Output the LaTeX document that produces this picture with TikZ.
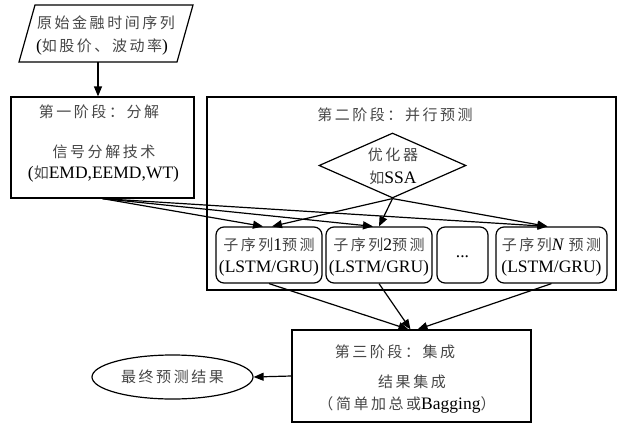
\documentclass[tikz,border=0pt]{standalone}
\usepackage{fontspec}
\setmainfont{Liberation Serif}
\newfontfamily\cjkfont[LetterSpace=17]{Noto Sans CJK SC}
\newcommand\zh[1]{{\cjkfont\fontsize{15}{20}\selectfont\color{black!72}#1}}
\usetikzlibrary{shapes.geometric,arrows.meta}
\begin{document}
\begin{tikzpicture}[x=1pt,y=-1pt,
  every node/.style={font=\fontsize{17.5}{20}\selectfont, inner sep=0pt},
  box/.style={draw, line width=1.2pt, rectangle},
  rbox/.style={draw, line width=1.2pt, rectangle, rounded corners=8pt},
  txt/.style={align=center},
  arr/.style={line width=1.2pt, -{Triangle[length=10pt,width=8pt]}}]
\useasboundingbox (0,0) rectangle (623,423);
\fill[white] (0,0) rectangle (623,423);
% source parallelogram
\draw[line width=1.2pt] (35,5) -- (193,5) -- (177,62) -- (19,62) -- cycle;
\node[txt] (srcA) at (106,23) {\zh{原始金融时间序列}};
\node[txt] (srcB) at (102,47) {(\zh{如股价、波动率})};
\coordinate (srcb) at (98,62);
% stage 1
\node[box, minimum width=183pt, minimum height=101pt] (s1) at (102.5,147.5) {};
\node[txt] (s1t) at (99,112) {\zh{第一阶段：分解}};
\node[txt] (s1a) at (104,152) {\zh{信号分解技术}};
\node[txt] (s1b) at (103.5,174) {(\zh{如}EMD,EEMD,WT)};
% stage 2
\node[box, minimum width=409pt, minimum height=193pt] (s2) at (411.5,193.5) {};
\node[txt] (s2t) at (395,115) {\zh{第二阶段：并行预测}};
\node[draw, line width=1.2pt, shape=diamond, minimum width=147pt, minimum height=65pt] (d) at (392.5,165.5) {};
\node[txt] (da) at (393,155) {\zh{优化器}};
\node[txt] (db) at (393,178) {\zh{如}SSA};
\node[rbox, minimum width=106pt, minimum height=56pt] (b1) at (269,255) {};
\node[rbox, minimum width=106pt, minimum height=56pt] (b2) at (379,255) {};
\node[rbox, minimum width=51pt, minimum height=56pt] (b3) at (462.5,255) {};
\node[rbox, minimum width=111pt, minimum height=56pt] (bN) at (551.5,255) {};
\node[txt] (b1a) at (269,245) {\zh{子序列}1\zh{预测}};
\node[txt] (b1b) at (269,268) {(LSTM/GRU)};
\node[txt] (b2a) at (379,245) {\zh{子序列}2\zh{预测}};
\node[txt] (b2b) at (379,268) {(LSTM/GRU)};
\node[txt] (b3a) at (462.5,257) {...};
\node[txt] (bNa) at (551.5,245) {\zh{子序列}\textit{N} \zh{预测}};
\node[txt] (bNb) at (551.5,268) {(LSTM/GRU)};
% stage 3
\node[box, minimum width=239pt, minimum height=92pt] (s3) at (411.5,376) {};
\node[txt] (s3t) at (395,352) {\zh{第三阶段：集成}};
\node[txt] (s3a) at (412,382) {\zh{结果集成}};
\node[txt] (s3b) at (407,405) {\zh{（简单加总或}Bagging\zh{）}};
\node[draw, line width=1.2pt, ellipse, minimum width=161pt, minimum height=44pt] (out) at (172.5,377) {};
\node[txt] (outt) at (172.5,377) {\zh{最终预测结果}};
% connectors
\draw[arr] (srcb) -- (srcb |- s1.north);
\draw[arr] (s1.south) -- ([xshift=-6pt]b1.north);
\draw[arr] (s1.south) -- ([xshift=-6pt]b2.north);
\draw[arr] (s1.south) -- ([xshift=-4pt]bN.north);
\draw[arr] (d.south) -- ([xshift=3pt]b1.north);
\draw[arr] (d.south) -- (b2.north);
\draw[arr] (d.south) -- ([xshift=-4pt]bN.north);
\draw[arr] (b1.south) -- ([xshift=-3pt]s3.north);
\draw[arr] (b2.south) -- ([xshift=-1pt]s3.north);
\draw[arr] (bN.south) -- ([xshift=6pt]s3.north);
\draw[arr] (s3.west) -- (out.east);
\end{tikzpicture}
\end{document}
